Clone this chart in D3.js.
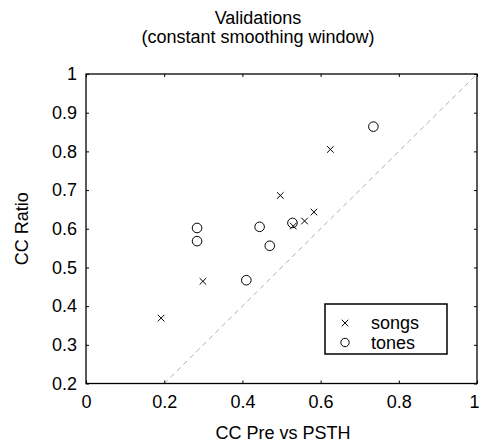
<html>
<head>
    <script src="https://d3js.org/d3.v7.min.js"></script>
    <style>
        body { margin: 0; background: white; }
        text { font-family: "Liberation Sans", Arial, sans-serif; fill: black; }
    </style>
</head>
<body>
    <svg id="chart"></svg>
    <script>
        var W = 481, H = 445;
        var Left = 86, Right = 477, Top = 74, Bottom = 383.5;

        // songs (x markers)
        var songsX = [0.192, 0.299, 0.497, 0.530, 0.559, 0.583, 0.625];
        var songsY = [0.369, 0.464, 0.686, 0.607, 0.620, 0.643, 0.805];
        // tones (o markers)
        var tonesX = [0.284, 0.284, 0.410, 0.444, 0.470, 0.528, 0.735];
        var tonesY = [0.602, 0.568, 0.467, 0.605, 0.556, 0.615, 0.864];

        var xTicks = [0, 0.2, 0.4, 0.6, 0.8, 1];
        var yTicks = [0.2, 0.3, 0.4, 0.5, 0.6, 0.7, 0.8, 0.9, 1];
        var legendLabels = ["songs", "tones"];

        var x = d3.scaleLinear().domain([0, 1]).range([Left, Right]);
        var y = d3.scaleLinear().domain([0.2, 1]).range([Bottom, Top]);

        var svg = d3.select("#chart").attr("width", W).attr("height", H);

        var fmt = function(d) { return d === 0 || d === 1 ? String(d) : d3.format(".1f")(d); };

        // unity line
        svg.append("line")
            .attr("x1", x(0.2)).attr("y1", y(0.2))
            .attr("x2", x(1)).attr("y2", y(1))
            .attr("stroke", "#b0b0b0").attr("stroke-width", 1)
            .attr("stroke-dasharray", "5,4");

        // axes (ticks inward on all four sides)
        var axB = svg.append("g").attr("transform", "translate(0," + Bottom + ")")
            .call(d3.axisBottom(x).tickValues(xTicks).tickFormat(fmt).tickSizeInner(-3).tickSizeOuter(0).tickPadding(12));
        var axT = svg.append("g").attr("transform", "translate(0," + Top + ")")
            .call(d3.axisTop(x).tickValues(xTicks).tickFormat("").tickSizeInner(-3).tickSizeOuter(0));
        var axL = svg.append("g").attr("transform", "translate(" + Left + ",0)")
            .call(d3.axisLeft(y).tickValues(yTicks).tickFormat(fmt).tickSizeInner(-3).tickSizeOuter(0).tickPadding(9));
        var axR = svg.append("g").attr("transform", "translate(" + Right + ",0)")
            .call(d3.axisRight(y).tickValues(yTicks).tickFormat("").tickSizeInner(-3).tickSizeOuter(0));

        [axB, axT, axL, axR].forEach(function(g) {
            g.select(".domain").remove();
            g.selectAll(".tick line").attr("stroke", "#000");
            g.selectAll("text").attr("font-size", 18).attr("font-family", "Liberation Sans, Arial, sans-serif");
        });
        // keep the last x label inside the window
        axB.selectAll(".tick text").filter(function(d) { return d === 1; }).attr("dx", -3);

        svg.append("rect")
            .attr("x", Left).attr("y", Top)
            .attr("width", Right - Left).attr("height", Bottom - Top)
            .attr("fill", "none").attr("stroke", "#000").attr("stroke-width", 1.3);

        function cross(g, cx, cy, s) {
            g.append("path")
                .attr("d", "M" + (cx - s) + "," + (cy - s) + "L" + (cx + s) + "," + (cy + s) +
                           "M" + (cx - s) + "," + (cy + s) + "L" + (cx + s) + "," + (cy - s))
                .attr("stroke", "#000").attr("stroke-width", 1).attr("fill", "none");
        }

        var pts = svg.append("g");
        songsX.forEach(function(d, i) { cross(pts, x(d), y(songsY[i]), 3.3); });
        pts.selectAll("circle.tone")
            .data(tonesX)
            .enter().append("circle").classed("tone", true)
            .attr("cx", function(d) { return x(d); })
            .attr("cy", function(d, i) { return y(tonesY[i]); })
            .attr("r", 4.8)
            .attr("fill", "none").attr("stroke", "#000").attr("stroke-width", 1);

        // legend
        var lg = svg.append("g");
        lg.append("rect").attr("x", 325).attr("y", 304).attr("width", 122).attr("height", 50)
            .attr("fill", "white").attr("stroke", "#000").attr("stroke-width", 1.5);
        cross(lg, 345, 323, 3.3);
        lg.append("circle").attr("cx", 345).attr("cy", 342.5).attr("r", 4.2)
            .attr("fill", "none").attr("stroke", "#000");
        lg.selectAll("text.lab").data(legendLabels).enter().append("text").classed("lab", true)
            .attr("x", 371).attr("y", function(d, i) { return 329 + i * 19.5; })
            .attr("font-size", 18).text(function(d) { return d; });

        // titles
        svg.append("text").attr("x", 258).attr("y", 24).attr("text-anchor", "middle")
            .attr("font-size", 18).text("Validations");
        svg.append("text").attr("x", 258).attr("y", 43).attr("text-anchor", "middle")
            .attr("font-size", 18).text("(constant smoothing window)");
        svg.append("text").attr("x", 283).attr("y", 439).attr("text-anchor", "middle")
            .attr("font-size", 18).text("CC Pre vs PSTH");
        svg.append("text").attr("transform", "translate(28," + ((Top + Bottom) / 2) + ") rotate(-90)")
            .attr("text-anchor", "middle").attr("font-size", 18).text("CC Ratio");
    </script>
</body>
</html>
